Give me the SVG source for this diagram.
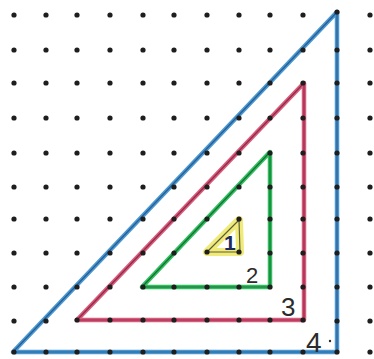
<svg xmlns="http://www.w3.org/2000/svg" width="374" height="359" viewBox="0 0 374 359">
<style>
.hl{fill:none;stroke-linejoin:round;stroke-linecap:round}
.core{fill:none;stroke-width:1.2;stroke-linejoin:round;opacity:.8}
.lbl{font-family:"Liberation Sans",Arial,sans-serif;fill:#2b2b2b}
</style>
<defs>
<circle id="d" r="2.6" fill="#1e1e1e"/>
</defs>
<rect width="374" height="359" fill="#ffffff"/>
<g id="connectors">
<g id="t4">
<polygon class="hl" points="337,12 13,352 337,352" stroke="#4a98d2" stroke-width="4.5"/>
<polygon class="core" points="337,12 13,352 337,352" stroke="#1f4f82"/>
</g>
<g id="t3">
<polygon class="hl" points="304,83 77,320 304,320" stroke="#d95a7c" stroke-width="4.5"/>
<polygon class="core" points="304,83 77,320 304,320" stroke="#7a2038"/>
</g>
<g id="t2">
<polygon class="hl" points="270,152 142,287 270,287" stroke="#2fbf5e" stroke-width="4.5"/>
<polygon class="core" points="270,152 142,287 270,287" stroke="#145a2a"/>
</g>
<g id="t1">
<polygon class="hl" points="239,220 207,252 240,252" stroke="#f0ea7a" stroke-width="8" fill="#faf6c0"/>
<polygon class="core" points="239,220 207,252 240,252" stroke="#3a3a2a"/>
</g>
</g>
<g id="dots">
<use href="#d" x="14" y="15"/><use href="#d" x="46" y="15"/><use href="#d" x="77" y="15"/><use href="#d" x="110" y="15"/><use href="#d" x="143" y="15"/><use href="#d" x="174" y="15"/><use href="#d" x="207" y="15"/><use href="#d" x="239" y="15"/><use href="#d" x="270" y="15"/><use href="#d" x="303" y="15"/><use href="#d" x="370" y="15"/>
<use href="#d" x="14" y="50"/><use href="#d" x="46" y="50"/><use href="#d" x="77" y="50"/><use href="#d" x="110" y="50"/><use href="#d" x="143" y="50"/><use href="#d" x="174" y="50"/><use href="#d" x="207" y="50"/><use href="#d" x="239" y="50"/><use href="#d" x="270" y="50"/><use href="#d" x="303" y="50"/><use href="#d" x="337" y="50"/><use href="#d" x="370" y="50"/>
<use href="#d" x="14" y="83"/><use href="#d" x="46" y="83"/><use href="#d" x="77" y="83"/><use href="#d" x="110" y="83"/><use href="#d" x="143" y="83"/><use href="#d" x="174" y="83"/><use href="#d" x="207" y="83"/><use href="#d" x="239" y="83"/><use href="#d" x="270" y="83"/><use href="#d" x="303" y="83"/><use href="#d" x="337" y="83"/><use href="#d" x="370" y="83"/>
<use href="#d" x="14" y="118"/><use href="#d" x="46" y="118"/><use href="#d" x="77" y="118"/><use href="#d" x="110" y="118"/><use href="#d" x="143" y="118"/><use href="#d" x="174" y="118"/><use href="#d" x="207" y="118"/><use href="#d" x="239" y="118"/><use href="#d" x="270" y="118"/><use href="#d" x="303" y="118"/><use href="#d" x="337" y="118"/><use href="#d" x="370" y="118"/>
<use href="#d" x="14" y="153"/><use href="#d" x="46" y="153"/><use href="#d" x="77" y="153"/><use href="#d" x="110" y="153"/><use href="#d" x="143" y="153"/><use href="#d" x="174" y="153"/><use href="#d" x="207" y="153"/><use href="#d" x="239" y="153"/><use href="#d" x="270" y="153"/><use href="#d" x="303" y="153"/><use href="#d" x="337" y="153"/><use href="#d" x="370" y="153"/>
<use href="#d" x="14" y="187"/><use href="#d" x="46" y="187"/><use href="#d" x="77" y="187"/><use href="#d" x="110" y="187"/><use href="#d" x="143" y="187"/><use href="#d" x="174" y="187"/><use href="#d" x="207" y="187"/><use href="#d" x="239" y="187"/><use href="#d" x="270" y="187"/><use href="#d" x="303" y="187"/><use href="#d" x="337" y="187"/><use href="#d" x="370" y="187"/>
<use href="#d" x="14" y="219"/><use href="#d" x="46" y="219"/><use href="#d" x="77" y="219"/><use href="#d" x="110" y="219"/><use href="#d" x="143" y="219"/><use href="#d" x="174" y="219"/><use href="#d" x="207" y="219"/><use href="#d" x="239" y="219"/><use href="#d" x="270" y="219"/><use href="#d" x="303" y="219"/><use href="#d" x="337" y="219"/><use href="#d" x="370" y="219"/>
<use href="#d" x="14" y="253"/><use href="#d" x="46" y="253"/><use href="#d" x="77" y="253"/><use href="#d" x="110" y="253"/><use href="#d" x="143" y="253"/><use href="#d" x="174" y="253"/><use href="#d" x="207" y="252"/><use href="#d" x="239" y="252"/><use href="#d" x="270" y="253"/><use href="#d" x="303" y="253"/><use href="#d" x="337" y="253"/><use href="#d" x="370" y="253"/>
<use href="#d" x="14" y="287"/><use href="#d" x="46" y="287"/><use href="#d" x="77" y="287"/><use href="#d" x="110" y="287"/><use href="#d" x="143" y="287"/><use href="#d" x="174" y="287"/><use href="#d" x="207" y="287"/><use href="#d" x="239" y="287"/><use href="#d" x="270" y="287"/><use href="#d" x="303" y="287"/><use href="#d" x="337" y="287"/><use href="#d" x="370" y="287"/>
<use href="#d" x="14" y="321"/><use href="#d" x="46" y="321"/><use href="#d" x="77" y="320"/><use href="#d" x="110" y="320"/><use href="#d" x="143" y="320"/><use href="#d" x="174" y="320"/><use href="#d" x="207" y="320"/><use href="#d" x="239" y="320"/><use href="#d" x="270" y="320"/><use href="#d" x="303" y="320"/><use href="#d" x="337" y="321"/><use href="#d" x="370" y="321"/>
<use href="#d" x="14" y="352"/><use href="#d" x="46" y="352"/><use href="#d" x="77" y="352"/><use href="#d" x="110" y="352"/><use href="#d" x="143" y="352"/><use href="#d" x="174" y="352"/><use href="#d" x="207" y="352"/><use href="#d" x="239" y="352"/><use href="#d" x="270" y="352"/><use href="#d" x="303" y="352"/><use href="#d" x="337" y="352"/><use href="#d" x="370" y="352"/>
<use href="#d" x="337" y="12"/>
</g>
<g id="labels">
<text class="lbl" x="224" y="250" font-size="21" font-weight="bold" style="fill:#1d2a5c">1</text>
<text class="lbl" x="246" y="283" font-size="22">2</text>
<text class="lbl" x="281" y="316" font-size="26">3</text>
<text class="lbl" x="306" y="352" font-size="28">4</text>
<circle cx="330" cy="341" r="1.2" fill="#2b2b2b"/>
</g>
</svg>
